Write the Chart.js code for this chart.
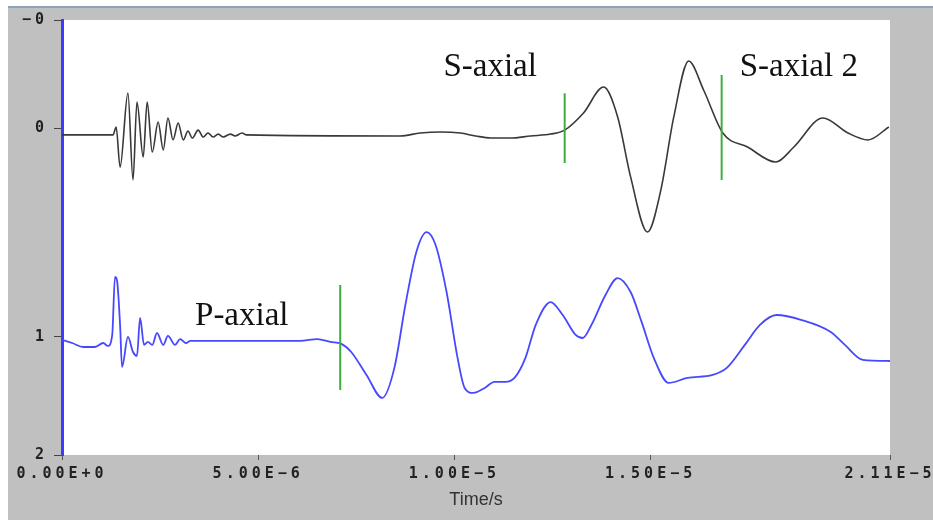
<!DOCTYPE html>
<html>
<head>
<meta charset="utf-8">
<script src="https://cdn.jsdelivr.net/npm/chart.js@4.4.1/dist/chart.umd.min.js"></script>
<style>
  html, body { margin: 0; padding: 0; background: #fff; }
  #wrap { width: 933px; height: 520px; }
</style>
</head>
<body>
<div id="wrap"><canvas id="c" width="933" height="520"></canvas></div>
<script>
// time in microseconds, amplitude in plot units (0 = S trace baseline, 1 = P trace baseline)
const sTime = [0, 1.30, 1.38, 1.48, 1.68, 1.81, 1.91, 2.07, 2.17, 2.30, 2.45, 2.58, 2.70, 2.83, 2.96,
  3.09, 3.21, 3.32, 3.47, 3.60, 3.72, 3.85, 3.98, 4.11, 4.29, 4.41, 4.59, 4.69, 8.62, 9.13,
  9.64, 10.15, 10.54, 10.92, 11.43, 11.94, 12.45, 12.81, 13.29, 13.80, 14.16, 14.49, 14.92, 15.26, 15.59,
  15.97, 16.35, 16.84, 17.47, 18.19, 18.65, 19.39, 20.03, 20.54, 21.07];
const sAmp = [0.033, 0.033, -0.005, 0.187, -0.167, 0.249, -0.124, 0.139, -0.124, 0.115, -0.029, 0.105, -0.048, 0.057, -0.024,
  0.057, 0.014, 0.048, 0.010, 0.043, 0.024, 0.043, 0.029, 0.043, 0.029, 0.038, 0.024, 0.033, 0.038, 0.024,
  0.019, 0.024, 0.038, 0.048, 0.048, 0.038, 0.029, 0.010, -0.072, -0.196, -0.053, 0.234, 0.498, 0.297, -0.053,
  -0.321, -0.182, 0.024, 0.091, 0.163, 0.091, -0.048, 0.024, 0.057, -0.005];

const pTime = [0, 0.26, 0.54, 0.84, 1.05, 1.17, 1.28, 1.35, 1.40, 1.48, 1.53, 1.68, 1.81, 1.91, 1.99,
  2.09, 2.19, 2.30, 2.42, 2.58, 2.70, 2.88, 3.01, 3.16, 3.27, 4.80, 6.07, 6.51, 6.84, 7.12,
  7.37, 7.76, 8.16, 8.47, 8.75, 9.03, 9.29, 9.52, 9.80, 10.08, 10.26, 10.48, 10.77, 11.02, 11.30,
  11.53, 11.81, 12.07, 12.45, 12.76, 13.09, 13.27, 13.49, 13.85, 14.16, 14.49, 14.77, 15.08, 15.46, 15.94,
  16.58, 16.94, 17.40, 17.78, 18.21, 18.85, 19.59, 19.95, 20.41, 21.10];
const pAmp = [1.014, 1.029, 1.048, 1.048, 1.029, 1.043, 0.990, 0.713, 0.727, 0.943, 1.144, 1.000, 1.072, 1.091, 0.909,
  1.038, 1.024, 1.038, 0.981, 1.038, 0.995, 1.038, 1.010, 1.029, 1.019, 1.019, 1.019, 1.010, 1.024, 1.033,
  1.072, 1.182, 1.292, 1.148, 0.847, 0.593, 0.498, 0.560, 0.785, 1.100, 1.244, 1.268, 1.244, 1.215, 1.215,
  1.196, 1.100, 0.943, 0.833, 0.895, 0.990, 1.005, 0.943, 0.799, 0.718, 0.785, 0.928, 1.100, 1.220, 1.196,
  1.182, 1.148, 1.038, 0.943, 0.895, 0.919, 0.976, 1.038, 1.110, 1.115];

// picked arrivals (green markers)
const pickNames = ['P-axial', 'S-axial', 'S-axial 2'];
const pickTimes = [7.09, 12.81, 16.81];
const pickLow = [0.751, -0.167, -0.254];
const pickHigh = [1.254, 0.167, 0.249];

const xTicks = [0, 5, 10, 15, 21.1];
const yTicks = [-0.517, 0, 1, 1.565];
const yTickLabels = ['\u22120', '0', '1', '2'];

const toPoints = (ts, vs) => ts.map((t, i) => ({ x: t, y: vs[i] }));

const pickSets = pickTimes.map((t, i) => ({
  data: [{ x: t, y: pickLow[i] }, { x: t, y: pickHigh[i] }],
  borderColor: '#3fae3f',
  borderWidth: 2,
  pointRadius: 0
}));

const frame = {
  id: 'frame',
  beforeDraw(chart) {
    const { ctx, chartArea: a } = chart;
    ctx.save();
    ctx.fillStyle = '#fff';
    ctx.fillRect(0, 0, chart.width, chart.height);
    ctx.fillStyle = '#c0c0c0';
    ctx.fillRect(8, 7, chart.width - 8, chart.height - 7);
    ctx.fillStyle = '#8ea3ba';
    ctx.fillRect(8, 6, chart.width - 8, 2);
    ctx.fillStyle = '#fff';
    ctx.fillRect(a.left, a.top, a.right - a.left, a.bottom - a.top);
    ctx.restore();
  },
  afterDatasetsDraw(chart) {
    // the tick labels are drawn after this, wide spaced like the original
    chart.ctx.letterSpacing = '4px';
  },
  afterDraw(chart, args, opts) {
    const ctx = chart.ctx;
    ctx.letterSpacing = '0px';
    ctx.save();
    ctx.font = '33px "Liberation Serif"';
    ctx.fillStyle = '#111';
    ctx.textBaseline = 'alphabetic';
    opts.labels.forEach(l => {
      const x = chart.scales.x.getPixelForValue(l.t);
      const y = chart.scales.y.getPixelForValue(l.v);
      ctx.fillText(l.text, x, y);
    });
    ctx.restore();
  }
};

new Chart(document.getElementById('c'), {
  type: 'line',
  data: {
    datasets: [
      ...pickSets,
      {
        data: toPoints(sTime, sAmp),
        borderColor: '#393939',
        borderWidth: 1.6,
        pointRadius: 0,
        cubicInterpolationMode: 'monotone'
      },
      {
        data: toPoints(pTime, pAmp),
        borderColor: '#4848ff',
        borderWidth: 1.8,
        pointRadius: 0,
        cubicInterpolationMode: 'monotone'
      }
    ]
  },
  options: {
    responsive: false,
    animation: false,
    layout: { padding: { left: 8, top: 20, right: 43, bottom: 0 } },
    plugins: {
      legend: { display: false },
      tooltip: { enabled: false },
      frame: {
        labels: [
          { text: pickNames[0], t: 3.39, v: 0.943 },
          { text: pickNames[1], t: 9.72, v: -0.248 },
          { text: pickNames[2], t: 17.27, v: -0.248 }
        ]
      }
    },
    scales: {
      x: {
        type: 'linear',
        min: 0,
        max: 21.1,
        afterBuildTicks: s => { s.ticks = xTicks.map(v => ({ value: v })); },
        afterFit: s => { s.height = 65; s.paddingLeft = 0; s.paddingRight = 0; },
        grid: { drawOnChartArea: false, tickLength: 5, color: '#555' },
        border: { display: false },
        ticks: {
          z: 1,
          autoSkip: false,
          maxRotation: 0,
          padding: 5,
          color: '#222',
          font: { family: '"DejaVu Sans Mono"', size: 15, weight: 'bold' },
          callback: v => (v * 1e-6).toExponential(2).toUpperCase().replace('-', '\u2212')
        },
        title: {
          display: true,
          text: 'Time/s',
          color: '#333',
          font: { family: '"Liberation Sans"', size: 18 },
          padding: { top: 0, bottom: 9 }
        }
      },
      y: {
        type: 'linear',
        reverse: true,
        min: yTicks[0],
        max: yTicks[yTicks.length - 1],
        afterBuildTicks: s => { s.ticks = yTicks.map(v => ({ value: v })); },
        afterFit: s => { s.width = 54; s.paddingTop = 0; s.paddingBottom = 0; },
        grid: { drawOnChartArea: false, tickLength: 8, color: '#444' },
        border: { display: true, color: '#3c3cff', width: 3 },
        ticks: {
          z: 1,
          padding: 6,
          color: '#222',
          font: { family: '"DejaVu Sans Mono"', size: 15, weight: 'bold' },
          callback: (v, i) => yTickLabels[i]
        }
      }
    }
  },
  plugins: [frame]
});
</script>
</body>
</html>
